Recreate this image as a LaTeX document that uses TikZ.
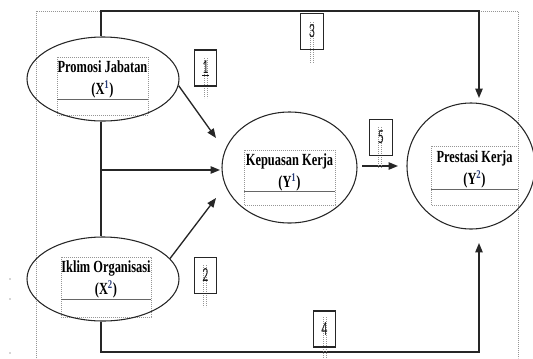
\documentclass[tikz,border=0pt]{standalone}
\usepackage{fontspec}
\usetikzlibrary{arrows.meta,shapes.geometric}
\newfontfamily\lblfont[FakeStretch=0.73]{Liberation Serif}
\newfontfamily\digfont[FakeStretch=0.6]{Carlito}
\definecolor{dotgray}{RGB}{150,150,150}
\definecolor{supblue}{RGB}{40,60,120}
\begin{document}
\begin{tikzpicture}[x=0.75pt,y=-0.75pt,
  frame/.style={draw=dotgray, line width=0.4pt, dash pattern=on 0.6pt off 0.9pt},
  conn/.style={draw=black!85, line width=1pt},
  arr/.style={conn, -{Triangle[length=7pt,width=5.5pt]}},
  ell/.style={draw=black!85, line width=0.8pt, ellipse, inner sep=0pt},
  rulel/.style={draw=black!60, line width=0.6pt},
  lbl/.style={font=\lblfont\bfseries\fontsize{12.75}{16.5}\selectfont, inner sep=0pt, align=center, text=black},
  numbox/.style={draw=black!85, line width=0.8pt, minimum width=17pt, minimum height=27pt, inner sep=0pt},
  num/.style={font=\digfont\fontsize{15}{15}\selectfont, inner sep=0pt, text=black!90}
]
\useasboundingbox (0,0) rectangle (533,358);

% outer dotted frame
\draw[frame] (36,358) -- (36,11) -- (518,11) -- (518,358);

% text boxes (dotted) and rules
\draw[frame] (57,57) rectangle (148,115);
\draw[rulel] (57,99) -- (148,99);
\draw[frame] (61,257) rectangle (151,317);
\draw[rulel] (61,299) -- (151,299);
\draw[frame] (244,150) rectangle (335,205);
\draw[rulel] (244,191) -- (335,191);
\draw[frame] (431,146) rectangle (518,205);
\draw[rulel] (431,189) -- (518,189);

% ellipses
\node[ell, minimum width=114pt, minimum height=63pt] (p) at (103,79) {};
\node[ell, minimum width=114pt, minimum height=63pt] (i) at (103,279) {};
\node[ell, minimum width=101.25pt, minimum height=83.25pt] (k) at (289.5,167.5) {};
\node[ell, minimum width=96pt, minimum height=94.5pt] (y) at (471,166) {};

% labels
\node[lbl] (pt) at (102.5,79) {Promosi Jabatan\\(X\textsuperscript{\color{supblue}1})};
\node[lbl] (it) at (106,279) {Iklim Organisasi\\(X\textsuperscript{\color{supblue}2})};
\node[lbl] (kt) at (289.5,172) {Kepuasan Kerja\\(Y\textsuperscript{\color{supblue}1})};
\node[lbl] (yt) at (474.5,169) {Prestasi Kerja\\(Y\textsuperscript{\color{supblue}2})};

% coordinates
\coordinate (tl) at (101,11);
\coordinate (tr) at (479,11);
\coordinate (bl) at (101,352);
\coordinate (br) at (479,352);
\coordinate (e3) at (479,98);
\coordinate (e4) at (479,243);
\coordinate (mj) at (101,170);
\coordinate (e0) at (220,170);
\coordinate (e1) at (216,138);
\coordinate (e2) at (216,198);
\coordinate (s5) at (362,166);
\coordinate (e5) at (398,166);

% connectors
\draw[arr] (p.north -| tl) -- (tl) -- (tr) -- (e3);
\draw[arr] (i.south -| tl) -- (bl) -- (br) -- (e4);
\draw[conn] (p.south -| tl) -- (i.north -| tl);
\draw[arr] (mj) -- (e0);
\draw[arr] (p.-5) -- (e1);
\draw[arr] (i.17) -- (e2);
\draw[arr] (s5) -- (e5);

% number boxes with dotted guides
\foreach \n/\cx/\cy/\xa/\ya/\yb in {1/205.5/68/204/58/98, 2/205.5/275.5/203/265/307, 3/312/31.5/310/22/63, 4/324.5/329/323/317/358, 5/381/137.5/378/127/168}{
  \draw[frame] (\xa,\ya) -- (\xa,\yb);
  \draw[frame] (\xa+3,\ya) -- (\xa+3,\yb);
  \node[numbox] (b\n) at (\cx,\cy) {};
}
\node[num] (n1) at (b1) {\underline{1}};
\node[num] (n2) at (b2) {2};
\node[num] (n3) at (b3) {3};
\node[num] (n4) at (b4) {4};
\node[num] (n5) at (b5) {5};

% tiny marks at left
\fill[black!70] (10,279) circle (0.7);
\fill[black!70] (10,299) circle (0.7);
\fill[black!70] (10,353) circle (0.7);
\end{tikzpicture}
\end{document}
